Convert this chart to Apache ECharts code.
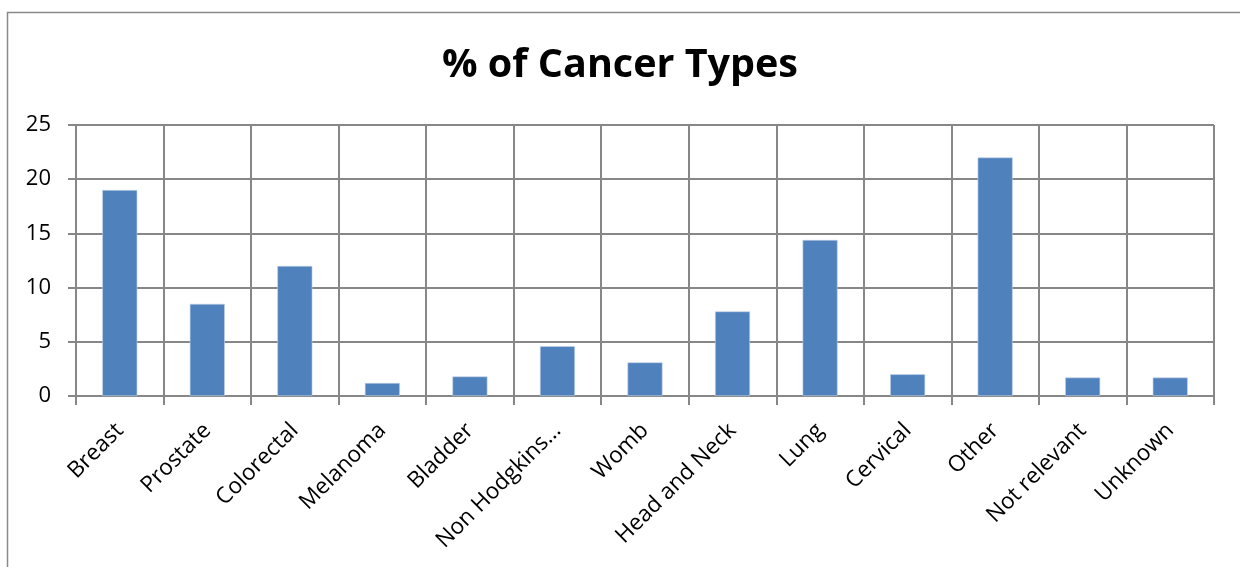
<!DOCTYPE html>
<html>
<head>
<meta charset="utf-8">
<script src="https://cdn.jsdelivr.net/npm/echarts@6/dist/echarts.min.js"></script>
<style>
  html, body { margin: 0; padding: 0; background: #fff; }
  #chart { width: 1240px; height: 567px; }
</style>
</head>
<body>
<div id="chart"></div>
<script>
// 数据
var categories = ['Breast', 'Prostate', 'Colorectal', 'Melanoma', 'Bladder', 'Non Hodgkins…',
    'Womb', 'Head and Neck', 'Lung', 'Cervical', 'Other', 'Not relevant', 'Unknown'];
var percentValues = [19.0, 8.5, 12.0, 1.2, 1.8, 4.6, 3.1, 7.8, 14.4, 2.0, 22.0, 1.7, 1.7];
var yTicks = [0, 5, 10, 15, 20, 25];

var gridColor = '#878787';
var font = '"Open Sans", "Noto Sans", sans-serif';

var option = {
    animation: false,
    backgroundColor: '#fff',
    title: {
        text: '% of Cancer Types',
        left: 'center',
        top: 41,
        textStyle: {
            fontFamily: font,
            fontSize: 39.5,
            fontWeight: 'bold',
            color: '#000'
        }
    },
    graphic: [
        {
            type: 'rect',
            shape: { x: 7.5, y: 12.5, width: 1300, height: 600 },
            style: { fill: 'none', stroke: '#8a8a8a', lineWidth: 1.5 },
            silent: true
        }
    ],
    grid: { left: 76, right: 26, top: 125, bottom: 171 },
    xAxis: {
        type: 'category',
        data: categories,
        boundaryGap: true,
        axisLine: { lineStyle: { color: gridColor, width: 2 } },
        axisTick: { show: true, length: 9, lineStyle: { color: gridColor, width: 2 } },
        splitLine: { show: true, interval: 0, lineStyle: { color: gridColor, width: 2 } },
        axisLabel: {
            interval: 0,
            rotate: 45,
            margin: 31,
            fontFamily: font,
            fontSize: 22.5,
            color: '#000'
        }
    },
    yAxis: {
        type: 'value',
        min: yTicks[0],
        max: yTicks[yTicks.length - 1],
        interval: 5,
        axisLine: { show: true, lineStyle: { color: gridColor, width: 2 } },
        axisTick: { show: true, length: 8, lineStyle: { color: gridColor, width: 2 } },
        splitLine: { show: true, lineStyle: { color: gridColor, width: 2 } },
        axisLabel: {
            margin: 25,
            fontFamily: font,
            fontSize: 22,
            color: '#000'
        }
    },
    series: [
        {
            type: 'bar',
            data: percentValues,
            barWidth: '40%',
            itemStyle: { color: '#4f81bd', borderColor: '#c5d4ea', borderWidth: 0.6 }
        }
    ]
};

var myChart = echarts.init(document.getElementById('chart'));
myChart.setOption(option);
</script>
</body>
</html>
